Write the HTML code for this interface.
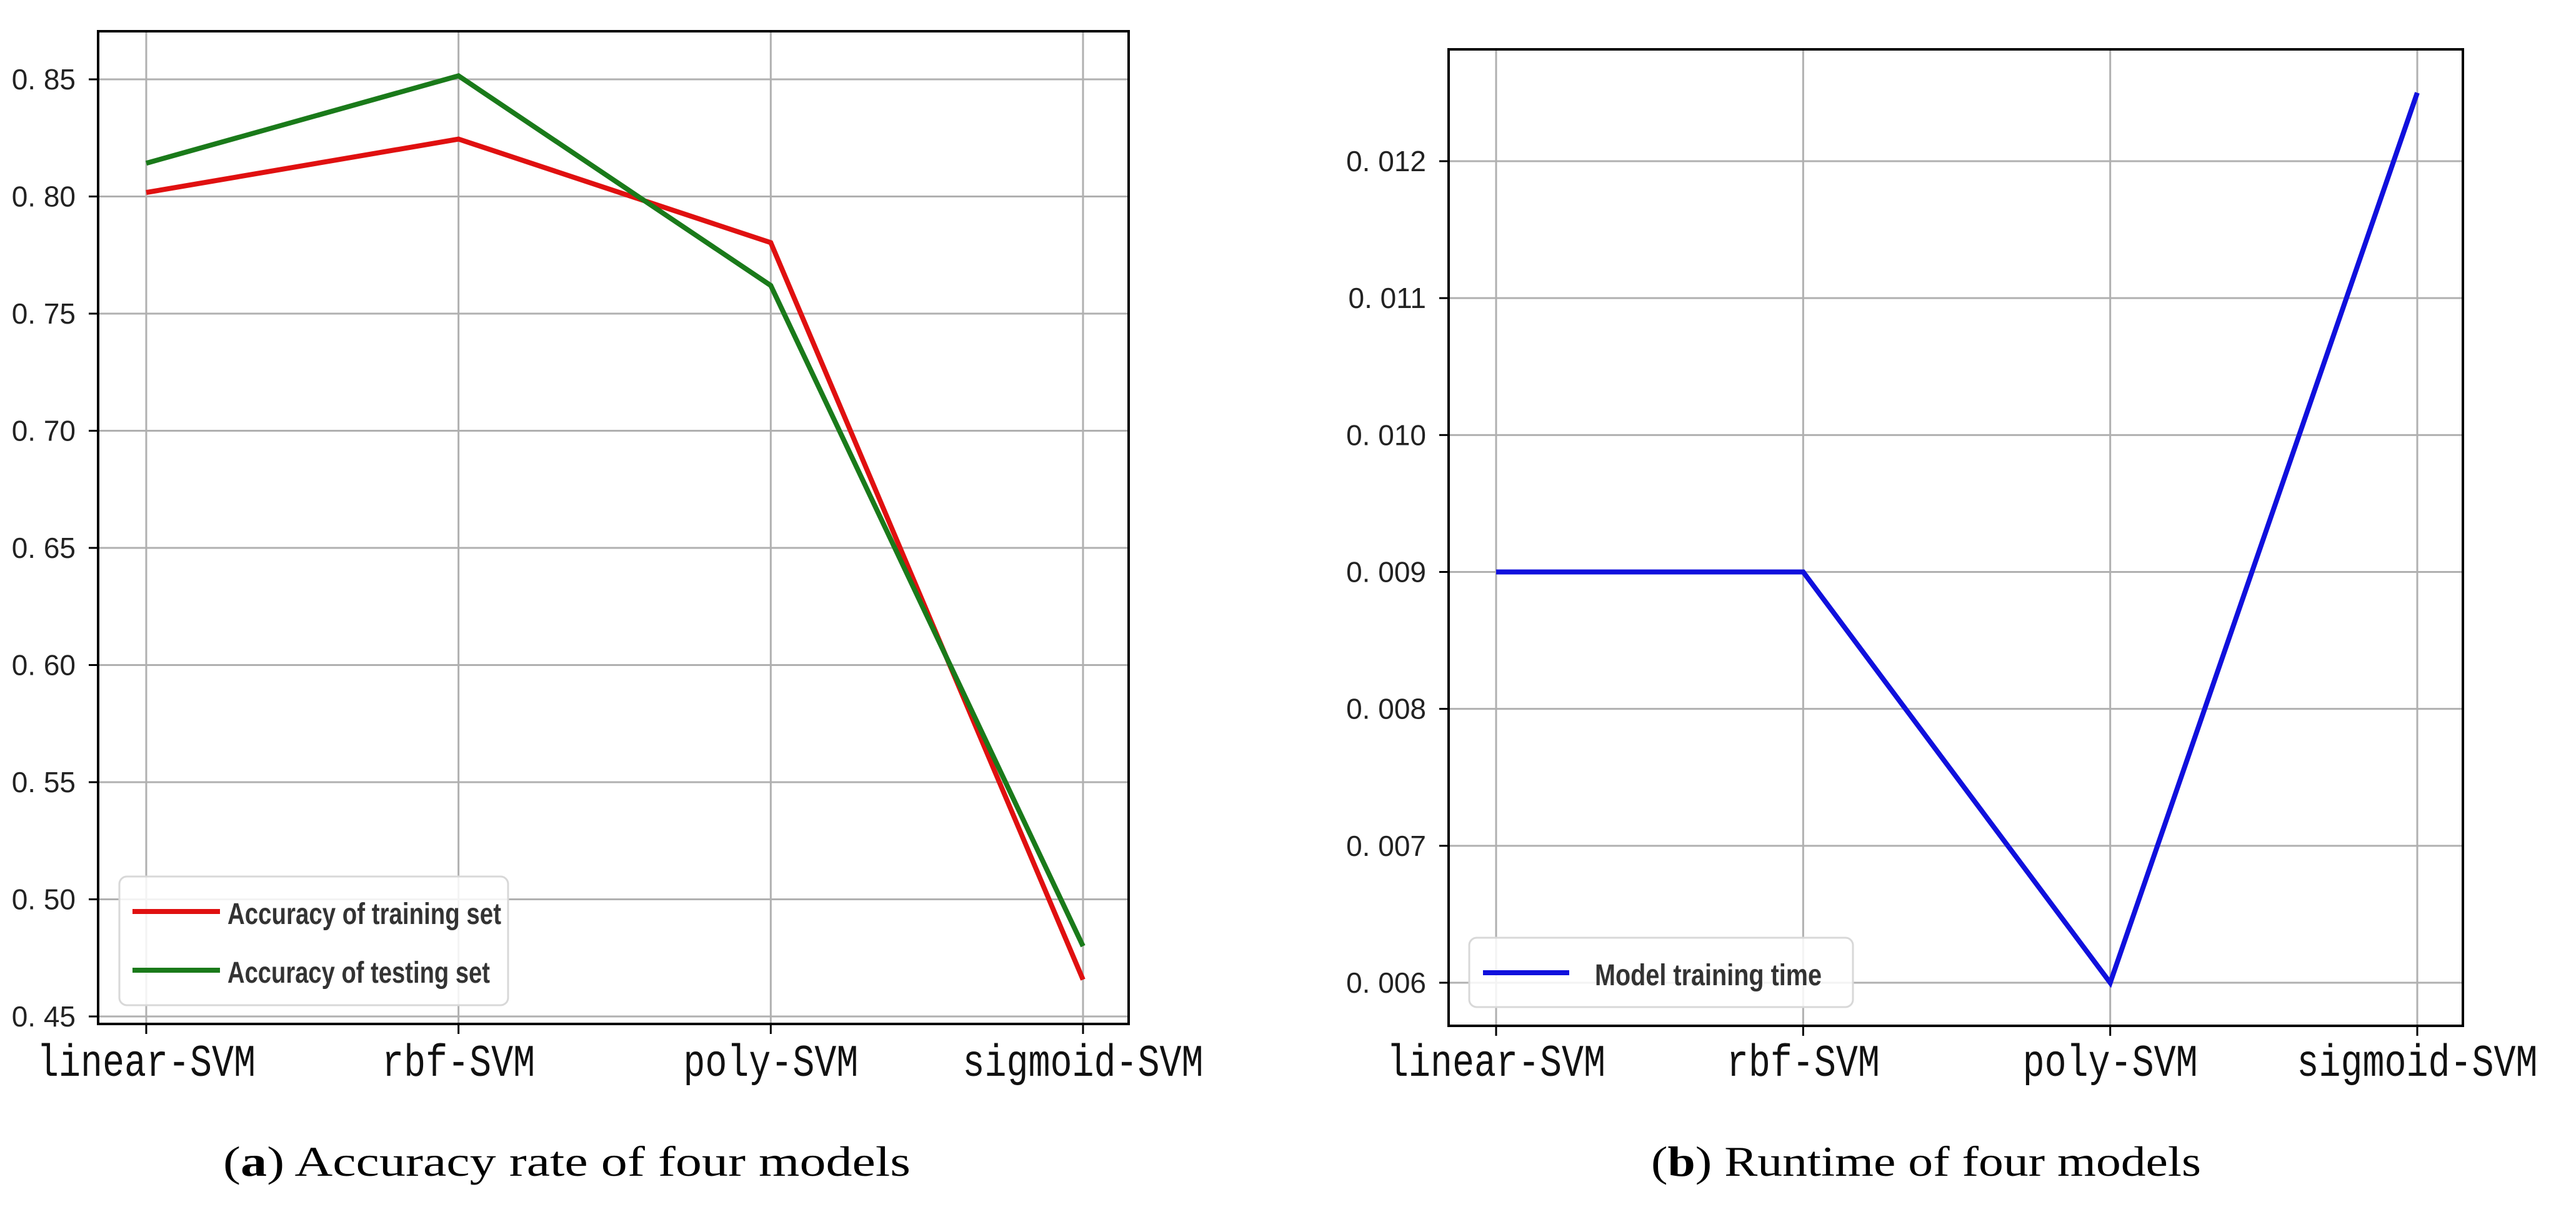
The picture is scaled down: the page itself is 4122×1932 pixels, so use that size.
<!DOCTYPE html>
<html><head><meta charset="utf-8"><style>html,body{margin:0;padding:0;background:#fff}svg{display:block}</style></head>
<body>
<svg id="fig" xmlns="http://www.w3.org/2000/svg" width="4122" height="1932" viewBox="0 0 4122 1932">
<rect width="4122" height="1932" fill="#fff"/>
</svg>
<script>
const categories = ["linear-SVM","rbf-SVM","poly-SVM","sigmoid-SVM"];
const trainAcc = [0.8017, 0.8245, 0.7803, 0.4657];
const testAcc = [0.8142, 0.8515, 0.7620, 0.4800];
const runtime = [0.009, 0.009, 0.006, 0.0125];
const accTicks = [0.45,0.50,0.55,0.60,0.65,0.70,0.75,0.80,0.85];
const accTickLabels = ["0. 45","0. 50","0. 55","0. 60","0. 65","0. 70","0. 75","0. 80","0. 85"];
const rtTicks = [0.006,0.007,0.008,0.009,0.010,0.011,0.012];
const rtTickLabels = ["0. 006","0. 007","0. 008","0. 009","0. 010","0. 011","0. 012"];

const NS="http://www.w3.org/2000/svg";
const svg=document.getElementById('fig');
function mk(tag,attrs,parent){const e=document.createElementNS(NS,tag);for(const k in attrs)e.setAttribute(k,attrs[k]);(parent||svg).appendChild(e);return e;}

function panel(o){
  const g=mk('g',{});
  
  
  const xs=i=>o.x0+i*(o.x3-o.x0)/(categories.length-1);
  const ys=v=>o.yA+(v-o.vA)*(o.yB-o.yA)/(o.vB-o.vA);
  o.ticks.forEach((t,i)=>{
    const y=ys(t);
    const gl=mk('line',{x1:o.L,x2:o.R,y1:y,y2:y,stroke:'#b0b0b0','stroke-width':3},g);
    
    
    const tk=mk('line',{x1:o.L-15,x2:o.L,y1:y,y2:y,stroke:'#000','stroke-width':3},g);
    
    
    const tx=mk('text',{x:o.L-36,y:y+16,'text-anchor':'end','font-size':46,'font-family':'Liberation Sans, sans-serif',fill:'#222'},g);
    tx.textContent=o.labels[i];
    
    
  });
  categories.forEach((c,i)=>{
    const x=xs(i);
    const gl=mk('line',{x1:x,x2:x,y1:o.T,y2:o.B,stroke:'#b0b0b0','stroke-width':3},g);
    
    
    const tk=mk('line',{x1:x,x2:x,y1:o.B,y2:o.B+16,stroke:'#000','stroke-width':3},g);
    
    
    const tx=mk('text',{x:x,y:1722,'text-anchor':'middle','font-size':72,'font-family':'Liberation Mono, monospace',fill:'#111',textLength:c.length*35,lengthAdjust:'spacingAndGlyphs'},g);
    tx.textContent=c;
    
    
  });
  o.series.forEach(s=>{
    const pts=s.vals.map((v,i)=>xs(i)+','+ys(v)).join(' ');
    const pl=mk('polyline',{points:pts,fill:'none',stroke:s.color,'stroke-width':8,'stroke-linejoin':'miter'},g);
    
    
  });
  const fr=mk('rect',{x:o.L,y:o.T,width:o.R-o.L,height:o.B-o.T,fill:'none',stroke:'#000','stroke-width':4},g);
  
  
  const lg=mk('g',{},g);
  
  
  const lb=o.leg;
  mk('rect',{x:lb.x,y:lb.y,width:lb.w,height:lb.h,rx:12,fill:'#fff','fill-opacity':0.85,stroke:'#d8d8d8','stroke-width':3},lg);
  o.series.forEach((s,i)=>{
    const ly=lb.ly[i];
    const ll=mk('line',{x1:lb.lx1,x2:lb.lx2,y1:ly,y2:ly,stroke:s.color,'stroke-width':8},lg);
    
    
    const lt=mk('text',{x:lb.tx,y:ly+20,'font-size':48,'font-family':'Liberation Sans, sans-serif','font-weight':'bold',fill:'#333',textLength:s.tw,lengthAdjust:'spacingAndGlyphs'},lg);
    lt.textContent=s.label;
    
    
  });
  const cap=mk('text',{x:o.capX,y:1882,'text-anchor':'middle','font-size':68,'font-family':'Liberation Serif, serif',fill:'#000',textLength:o.capW,lengthAdjust:'spacingAndGlyphs'},g);
  
  
  const b=mk('tspan',{'font-weight':'bold'},cap); b.textContent=o.capTag;
  const r=mk('tspan',{},cap); r.textContent=') '+o.capText;
  cap.insertBefore(document.createTextNode('('),b);
}

panel({name:'accuracy-chart',L:157,R:1806,T:50,B:1639,x0:234,x3:1733,yA:1627,vA:0.45,yB:127,vB:0.85,
  ticks:accTicks,labels:accTickLabels,
  series:[{name:'training-accuracy-line',vals:trainAcc,color:'#e01010',label:'Accuracy of training set',tw:438},
          {name:'testing-accuracy-line',vals:testAcc,color:'#1a7a1a',label:'Accuracy of testing set',tw:420}],
  leg:{x:191,y:1403,w:622,h:206,lx1:212,lx2:352,ly:[1459,1553],tx:364},
  capX:907,capW:1100,capTag:'a',capText:'Accuracy rate of four models'});

panel({name:'runtime-chart',L:2318,R:3941,T:79,B:1642,x0:2394,x3:3868,yA:1573,vA:0.006,yB:258,vB:0.012,
  ticks:rtTicks,labels:rtTickLabels,
  series:[{name:'training-time-line',vals:runtime,color:'#1010dd',label:'Model training time',tw:363}],
  leg:{x:2351,y:1501,w:614,h:111,lx1:2373,lx2:2511,ly:[1557],tx:2552},
  capX:3082,capW:880,capTag:'b',capText:'Runtime of four models'});
</script>
</body></html>
